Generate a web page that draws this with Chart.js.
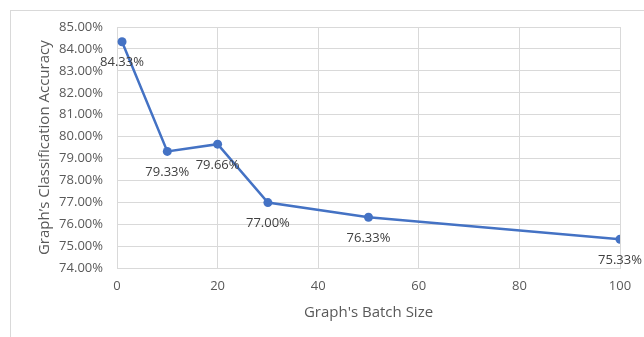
<!DOCTYPE html>
<html>
<head>
<meta charset="utf-8">
<script src="https://cdn.jsdelivr.net/npm/chart.js@4"></script>
<style>
  html, body { margin: 0; padding: 0; background: #fff; }
  #wrap { width: 644px; height: 337px; }
</style>
</head>
<body>
<div id="wrap"><canvas id="chart"></canvas></div>
<script>
// values
var batch_sizes = [1, 10, 20, 30, 50, 100];
var accuracy = [84.33, 79.33, 79.66, 77.00, 76.33, 75.33];
var y_min = 74, y_max = 85;
var x_min = 0, x_max = 100;

var points = [];
for (var i = 0; i < batch_sizes.length; i++) {
    points.push({ x: batch_sizes[i], y: accuracy[i] });
}

// frame around the whole chart, like the office chart border
var framePlugin = {
    id: 'frame',
    beforeDraw: function (chart) {
        var ctx = chart.ctx;
        ctx.save();
        ctx.strokeStyle = '#d9d9d9';
        ctx.lineWidth = 1;
        ctx.strokeRect(10.5, 10.5, 700, 400);
        ctx.restore();
    }
};

// value labels under each point
var labelPlugin = {
    id: 'pointLabels',
    afterDatasetsDraw: function (chart) {
        var ctx = chart.ctx;
        var meta = chart.getDatasetMeta(0);
        ctx.save();
        ctx.font = '13px "Open Sans"';
        ctx.fillStyle = '#404040';
        ctx.textAlign = 'center';
        ctx.textBaseline = 'middle';
        meta.data.forEach(function (pt, idx) {
            ctx.fillText(accuracy[idx].toFixed(2) + '%', pt.x, pt.y + 21);
        });
        ctx.restore();
    }
};

var tickFont = { family: 'Open Sans', size: 13 };
var titleFont = { family: 'Open Sans', size: 15 };

new Chart(document.getElementById('chart'), {
    type: 'scatter',
    data: {
        datasets: [{
            data: points,
            showLine: true,
            borderColor: '#4472c4',
            backgroundColor: '#4472c4',
            borderWidth: 2.5,
            pointRadius: 4.5,
            pointBorderWidth: 0,
            pointHoverRadius: 4.5,
            tension: 0
        }]
    },
    options: {
        responsive: true,
        maintainAspectRatio: false,
        animation: false,
        layout: { padding: { left: 30, right: 24, top: 27, bottom: 11 } },
        plugins: {
            legend: { display: false },
            tooltip: { enabled: false }
        },
        scales: {
            x: {
                type: 'linear',
                min: x_min,
                max: x_max,
                ticks: { stepSize: 20, color: '#595959', font: tickFont, padding: 10 },
                grid: { color: '#d9d9d9', drawTicks: false },
                border: { color: '#d9d9d9' },
                title: { display: true, text: "Graph's Batch Size", color: '#595959',
                         font: titleFont, padding: { top: 0 } }
            },
            y: {
                min: y_min,
                max: y_max,
                afterFit: function (scale) { scale.width = 87; },
                ticks: {
                    stepSize: 1, color: '#595959', font: tickFont, padding: 14,
                    callback: function (v) { return v.toFixed(2) + '%'; }
                },
                grid: { color: '#d9d9d9', drawTicks: false },
                border: { color: '#d9d9d9' },
                title: { display: true, text: "Graph\u2019s Classification Accuracy", color: '#595959',
                         font: titleFont, padding: { top: 6, bottom: 0 } }
            }
        }
    },
    plugins: [framePlugin, labelPlugin]
});
</script>
</body>
</html>
